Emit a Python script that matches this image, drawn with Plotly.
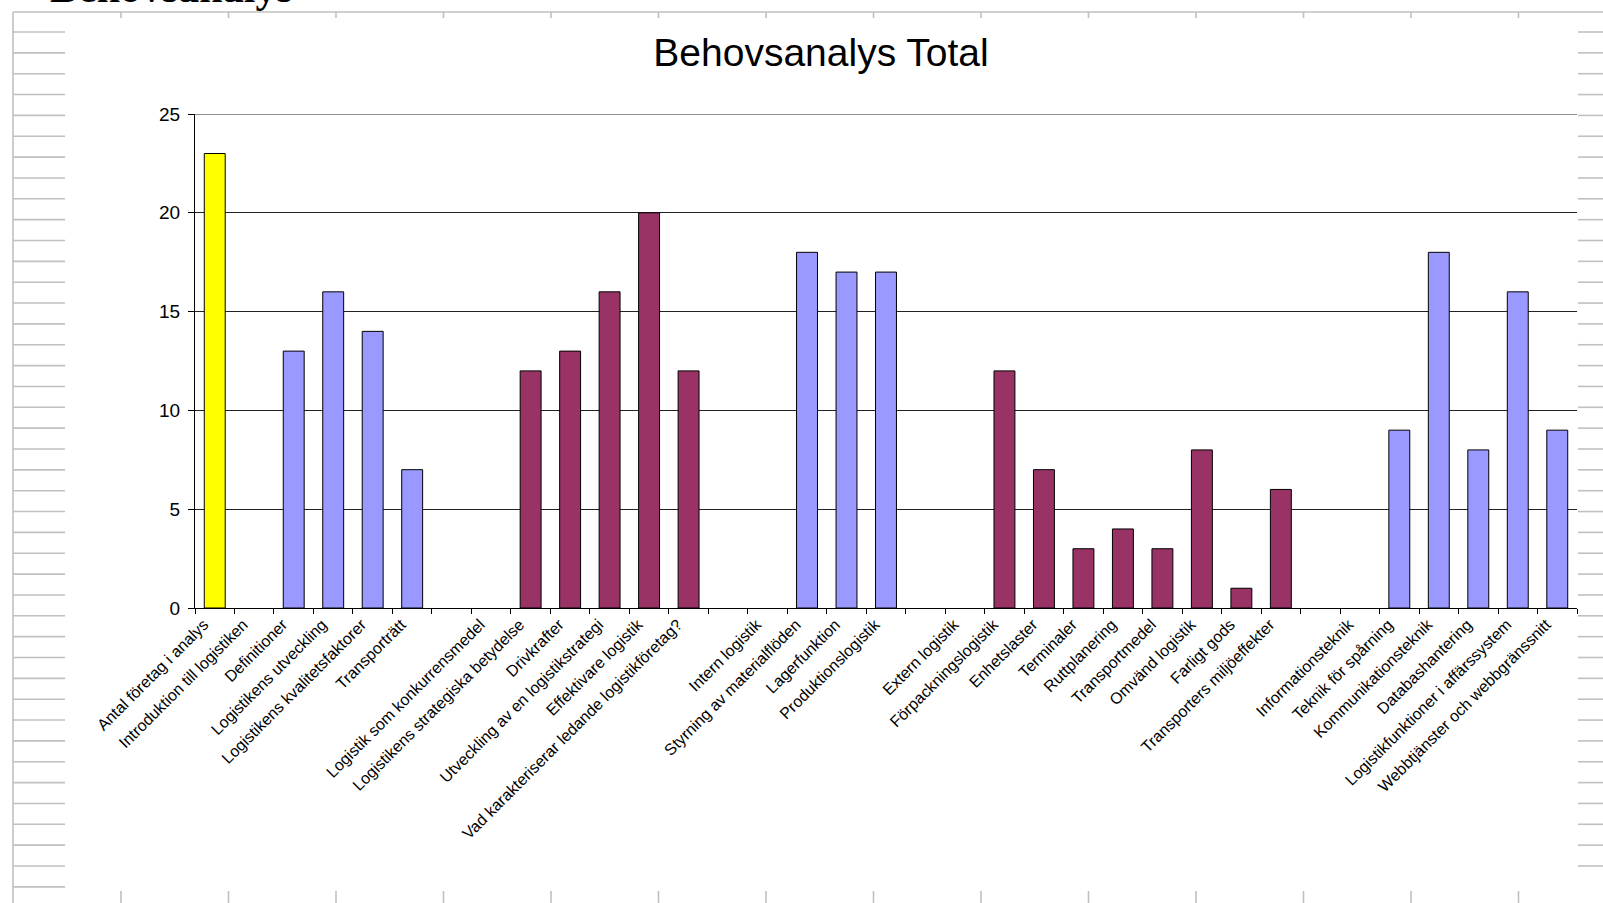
import plotly.graph_objects as go

categories = [
    "Antal företag i analys", "Introduktion till logistiken", "Definitioner",
    "Logistikens utveckling", "Logistikens kvalitetsfaktorer", "Transporträtt", "",
    "Logistik som konkurrensmedel", "Logistikens strategiska betydelse", "Drivkrafter",
    "Utveckling av en logistikstrategi", "Effektivare logistik",
    "Vad karakteriserar ledande logistikföretag?", "", "Intern logistik",
    "Styrning av materialflöden", "Lagerfunktion", "Produktionslogistik", "",
    "Extern logistik", "Förpackningslogistik", "Enhetslaster", "Terminaler",
    "Ruttplanering", "Transportmedel", "Omvänd logistik", "Farligt gods",
    "Transporters miljöeffekter", "", "Informationsteknik", "Teknik för spårning",
    "Kommunikationsteknik", "Databashantering", "Logistikfunktioner i affärssystem",
    "Webbtjänster och webbgränssnitt",
]
values = [23, 0, 13, 16, 14, 7, 0, 0, 12, 13, 16, 20, 12, 0, 0, 18, 17, 17, 0,
          0, 12, 7, 3, 4, 3, 8, 1, 6, 0, 0, 9, 18, 8, 16, 9]
groups = ["total", "a", "a", "a", "a", "a", "-", "b", "b", "b", "b", "b", "b", "-",
          "a", "a", "a", "a", "-", "b", "b", "b", "b", "b", "b", "b", "b", "b", "-",
          "a", "a", "a", "a", "a", "a"]
y_ticks = [0, 5, 10, 15, 20, 25]

group_colors = {"total": "#FFFF00", "a": "#9999FF", "b": "#993366", "-": "#9999FF"}
colors = [group_colors[g] for g in groups]
outline_widths = [1 if v > 0 else 0 for v in values]
x_idx = list(range(len(categories)))

W, H = 1603, 903
L, R, T, B = 195, 1577, 114, 608

def px(x):
    return (x - L) / (R - L)

def py(y):
    return (B - y) / (B - T)

fig = go.Figure()
fig.add_trace(go.Bar(
    x=x_idx, y=values, width=0.53,
    marker=dict(color=colors, line=dict(color="#000000", width=outline_widths)),
    showlegend=False,
))

shapes = []
deco = dict(color="#c0c0c0", width=1.6)
# frame
shapes.append(dict(type="line", xref="paper", yref="paper", x0=px(13), x1=px(W), y0=py(12), y1=py(12), line=deco, layer="below"))
shapes.append(dict(type="line", xref="paper", yref="paper", x0=px(13), x1=px(13), y0=py(12), y1=py(H), line=deco, layer="below"))
# ruler lines left/right
for i in range(42):
    yy = 32 + i * 20.85
    shapes.append(dict(type="line", xref="paper", yref="paper", x0=px(13), x1=px(65), y0=py(yy), y1=py(yy), line=deco, layer="below"))
    if yy < 875:
        shapes.append(dict(type="line", xref="paper", yref="paper", x0=px(1578), x1=px(W), y0=py(yy), y1=py(yy), line=deco, layer="below"))
# top / bottom ticks
for i in range(14):
    xx = 121 + i * 107.5
    shapes.append(dict(type="line", xref="paper", yref="paper", x0=px(xx), x1=px(xx), y0=py(12), y1=py(18), line=deco, layer="below"))
    shapes.append(dict(type="line", xref="paper", yref="paper", x0=px(xx), x1=px(xx), y0=py(891), y1=py(H), line=deco, layer="below"))
# top gridline at max of y range
shapes.append(dict(type="line", xref="paper", yref="y", x0=0, x1=1, y0=y_ticks[-1], y1=y_ticks[-1],
                   line=dict(color="#222222", width=1)))

fig.update_layout(
    width=W, height=H,
    margin=dict(l=L, r=W - R, t=T, b=H - B, pad=0),
    paper_bgcolor="#ffffff", plot_bgcolor="#ffffff",
    font=dict(family="Liberation Sans, Arial, sans-serif", color="#000000"),
    title=dict(text="Behovsanalys Total", x=px(821), xref="paper", xanchor="center",
               y=1 - 52 / H, yref="container", yanchor="middle",
               font=dict(size=39, family="Liberation Sans, Arial, sans-serif", color="#000000")),
    bargap=0.47,
    shapes=shapes,
    xaxis=dict(
        range=[-0.5, len(categories) - 0.5], tickmode="array", tickvals=x_idx,
        ticktext=categories, tickangle=-45, ticks="", showgrid=False,
        showline=True, linecolor="#000000", linewidth=1, zeroline=False,
        tickfont=dict(size=16), ticklabelshift=-11,
        minor=dict(tickmode="linear", tick0=-0.5, dtick=1, ticks="outside", ticklen=5,
                   tickcolor="#000000", tickwidth=1, showgrid=False),
    ),
    yaxis=dict(
        range=[0, 25], tickmode="array", tickvals=y_ticks, ticks="outside", ticklen=6,
        tickcolor="#000000", showgrid=True, gridcolor="#222222", gridwidth=1,
        showline=True, linecolor="#000000", linewidth=1, zeroline=False,
        tickfont=dict(size=19), ticklabelstandoff=4,
    ),
    annotations=[dict(text="<b>Behovsanalys</b>", xref="paper", yref="paper",
                      x=px(48), y=py(13), xanchor="left", yanchor="bottom",
                      showarrow=False,
                      font=dict(family="Liberation Serif, Times New Roman, serif", size=42, color="#000000"))],
)

fig.write_html("out.html")
